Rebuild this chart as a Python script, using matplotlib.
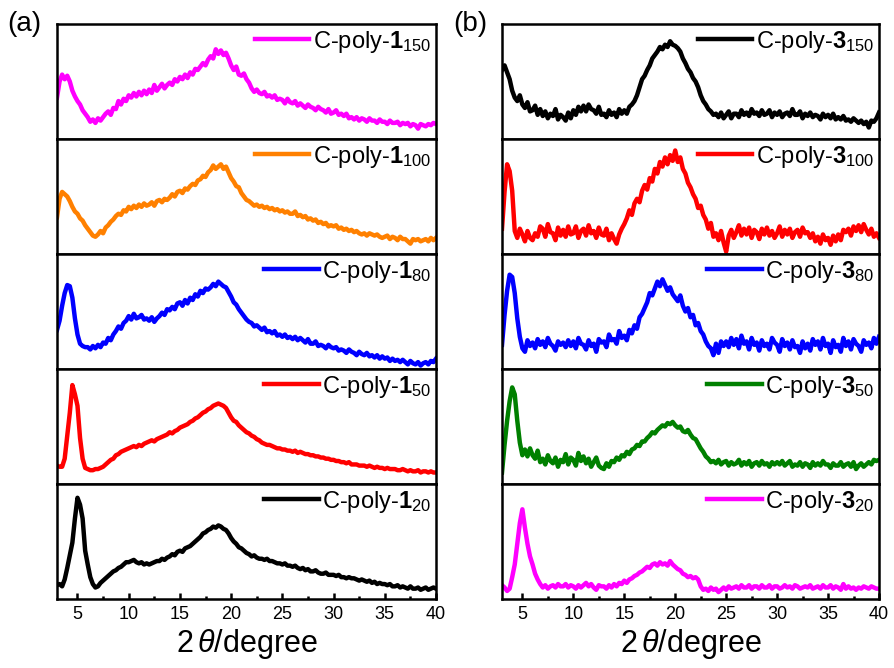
#!/usr/bin/env python3
"""XRD patterns of C-poly-1 and C-poly-3 series, stacked panels (a) and (b)."""
import numpy as np
import matplotlib
matplotlib.use("Agg")
import matplotlib.pyplot as plt
from matplotlib.ticker import MultipleLocator

plt.rcParams["font.family"] = ["Liberation Sans", "DejaVu Sans"]
plt.rcParams["mathtext.fontset"] = "custom"
plt.rcParams["mathtext.rm"] = "Liberation Sans"
plt.rcParams["mathtext.bf"] = "Liberation Sans:bold"
plt.rcParams["mathtext.it"] = "Liberation Sans:italic"

# 2-theta sampling (degrees), 0.25 deg step
two_theta = np.arange(3.0, 40.001, 0.25)

# intensities, % of the height of each stacked frame
a150 = [36, 50, 56, 52, 55, 50, 42, 37, 33, 30, 25, 22, 19, 15, 17, 14,
        18, 16, 19, 22, 24, 21, 27, 26, 33, 30, 35, 33, 38, 36, 40, 37,
        41, 38, 42, 39, 43, 40, 47, 42, 45, 48, 44, 47, 49, 47, 52, 50,
        54, 52, 56, 53, 58, 56, 61, 60, 63, 66, 64, 69, 72, 70, 78, 74,
        77, 73, 75, 70, 64, 60, 63, 56, 55, 57, 52, 49, 44, 41, 43, 40,
        39, 41, 37, 38, 36, 38, 34, 35, 34, 31, 35, 32, 31, 33, 29, 31,
        29, 27, 30, 28, 27, 25, 28, 26, 25, 23, 26, 22, 23, 25, 21, 22,
        20, 22, 18, 19, 17, 19, 16, 18, 17, 15, 18, 16, 16, 14, 17, 15,
        15, 13, 16, 14, 14, 15, 12, 14, 13, 14, 11, 13, 12, 9, 13, 12,
        11, 13, 12, 14, 13]
a100 = [32, 48, 54, 52, 50, 46, 41, 37, 35, 31, 29, 25, 22, 19, 16, 15,
        17, 20, 18, 23, 25, 28, 30, 33, 35, 34, 38, 37, 41, 39, 42, 40,
        43, 41, 44, 42, 43, 45, 42, 46, 47, 45, 48, 47, 49, 52, 50, 54,
        55, 53, 57, 56, 59, 61, 60, 64, 65, 68, 67, 71, 73, 77, 74, 76,
        78, 74, 76, 71, 66, 63, 59, 58, 53, 50, 47, 46, 44, 42, 43, 41,
        42, 40, 41, 39, 40, 38, 39, 37, 38, 36, 37, 35, 35, 37, 33, 34,
        32, 33, 30, 31, 29, 30, 27, 28, 26, 27, 24, 25, 24, 25, 22, 23,
        21, 22, 20, 21, 19, 20, 18, 17, 18, 16, 18, 17, 16, 17, 15, 14,
        15, 16, 13, 15, 14, 12, 15, 13, 13, 11, 9, 13, 12, 13, 11, 12,
        13, 11, 14, 12, 14]
a80 = [34, 42, 55, 66, 73, 72, 62, 44, 30, 22, 20, 19, 19, 17, 20, 18,
       21, 19, 23, 22, 27, 25, 30, 33, 37, 35, 40, 42, 46, 43, 48, 44,
       45, 47, 43, 44, 42, 45, 41, 44, 46, 49, 47, 52, 51, 54, 52, 57,
       58, 55, 60, 57, 62, 60, 65, 63, 68, 66, 70, 69, 71, 74, 72, 76,
       74, 72, 71, 67, 63, 58, 56, 52, 49, 46, 43, 41, 40, 37, 38, 36,
       34, 36, 32, 33, 31, 33, 29, 30, 28, 30, 27, 28, 26, 28, 25, 27,
       25, 23, 26, 22, 22, 24, 20, 21, 20, 18, 21, 19, 18, 19, 16, 17,
       16, 14, 17, 15, 14, 12, 15, 13, 12, 14, 11, 12, 10, 12, 9, 11,
       9, 10, 7, 9, 7, 8, 6, 8, 6, 4, 7, 5, 4, 6, 3, 5,
       6, 4, 7, 6, 9]
a50 = [16, 15, 15, 22, 42, 62, 86, 78, 68, 40, 22, 14, 13, 12, 12, 13,
       13, 14, 15, 17, 19, 21, 22, 25, 26, 28, 29, 30, 31, 32, 33, 32,
       34, 33, 35, 36, 37, 38, 37, 39, 40, 41, 42, 43, 45, 44, 46, 47,
       49, 50, 51, 52, 54, 55, 57, 58, 60, 62, 63, 65, 66, 68, 69, 70,
       69, 68, 66, 62, 58, 55, 54, 51, 49, 47, 45, 44, 42, 41, 39, 38,
       36, 35, 34, 34, 33, 32, 31, 31, 30, 30, 29, 29, 28, 29, 27, 28,
       27, 26, 26, 25, 25, 24, 24, 23, 23, 22, 22, 21, 21, 20, 20, 19,
       19, 18, 19, 17, 17, 17, 16, 16, 16, 15, 16, 15, 14, 15, 14, 14,
       13, 14, 13, 13, 13, 12, 12, 13, 12, 11, 12, 11, 11, 12, 10, 11,
       11, 10, 11, 10, 10]
a20 = [12, 13, 11, 17, 27, 38, 49, 70, 88, 82, 70, 42, 30, 19, 13, 10,
       11, 14, 16, 18, 20, 22, 24, 25, 27, 28, 30, 32, 32, 33, 34, 32,
       31, 32, 30, 31, 30, 31, 32, 33, 33, 35, 34, 36, 37, 39, 38, 41,
       42, 41, 44, 45, 46, 48, 50, 52, 54, 57, 58, 60, 61, 63, 62, 64,
       63, 61, 60, 57, 53, 50, 48, 45, 44, 42, 40, 39, 37, 38, 36, 35,
       35, 34, 35, 33, 33, 32, 31, 31, 30, 31, 29, 29, 28, 29, 27, 26,
       27, 25, 26, 24, 24, 25, 23, 22, 22, 23, 21, 21, 21, 20, 21, 19,
       19, 18, 19, 18, 18, 17, 16, 17, 16, 15, 16, 14, 15, 13, 14, 13,
       13, 12, 13, 11, 11, 12, 10, 11, 10, 9, 11, 9, 9, 10, 8, 9,
       10, 8, 9, 10, 9]

b150 = [60, 64, 58, 52, 42, 36, 33, 38, 30, 27, 32, 24, 25, 29, 21, 26,
        20, 24, 18, 22, 20, 26, 17, 21, 19, 16, 23, 18, 25, 21, 28, 24,
        29, 24, 30, 26, 25, 22, 28, 21, 22, 19, 25, 21, 23, 19, 26, 22,
        25, 22, 28, 30, 33, 38, 45, 52, 55, 60, 64, 70, 73, 76, 80, 78,
        82, 80, 85, 82, 81, 79, 76, 70, 66, 61, 58, 53, 50, 45, 38, 33,
        30, 26, 24, 21, 22, 19, 23, 18, 21, 24, 18, 22, 22, 19, 25, 21,
        23, 20, 26, 22, 23, 20, 25, 21, 22, 25, 19, 23, 21, 24, 19, 22,
        23, 20, 26, 21, 21, 24, 18, 22, 20, 23, 19, 21, 20, 17, 22, 19,
        21, 18, 22, 17, 19, 17, 20, 16, 17, 15, 18, 16, 14, 16, 13, 15,
        10, 16, 15, 18, 23]
b100 = [22, 54, 78, 72, 55, 20, 14, 22, 17, 11, 20, 14, 12, 18, 15, 24,
        22, 15, 26, 19, 18, 12, 23, 16, 21, 15, 24, 17, 18, 24, 14, 20,
        22, 16, 25, 18, 20, 14, 23, 17, 16, 22, 12, 18, 13, 9, 17, 22,
        26, 31, 38, 34, 44, 48, 45, 55, 60, 56, 66, 63, 74, 70, 80, 76,
        84, 78, 86, 81, 90, 80, 84, 74, 70, 62, 58, 52, 48, 40, 42, 34,
        30, 22, 27, 15, 18, 12, 20, 10, 2, 16, 21, 14, 19, 25, 16, 22,
        17, 23, 14, 21, 19, 13, 22, 17, 23, 16, 20, 14, 18, 24, 15, 21,
        17, 22, 14, 19, 21, 15, 23, 18, 19, 14, 18, 11, 15, 9, 17, 12,
        14, 8, 16, 11, 17, 12, 21, 19, 22, 16, 24, 20, 25, 19, 26, 21,
        17, 22, 15, 18, 14]
b80 = [21, 47, 68, 82, 80, 66, 44, 28, 18, 15, 25, 20, 23, 18, 26, 21,
       24, 19, 27, 22, 20, 16, 24, 21, 23, 19, 25, 20, 24, 18, 27, 22,
       21, 17, 25, 20, 22, 15, 26, 23, 24, 19, 30, 25, 26, 22, 33, 27,
       29, 25, 34, 31, 38, 35, 45, 48, 53, 58, 66, 64, 70, 76, 72, 78,
       73, 68, 71, 65, 62, 59, 64, 55, 50, 53, 45, 47, 38, 40, 33, 30,
       24, 20, 18, 12, 22, 14, 24, 20, 24, 19, 27, 21, 26, 18, 29, 22,
       24, 17, 27, 21, 23, 16, 25, 20, 22, 17, 27, 23, 21, 15, 26, 20,
       23, 17, 25, 19, 20, 14, 24, 18, 22, 16, 26, 21, 24, 17, 27, 20,
       22, 14, 25, 19, 21, 15, 27, 20, 24, 17, 26, 22, 20, 15, 25, 21,
       23, 18, 27, 22, 28]
b50 = [10, 34, 55, 72, 84, 78, 55, 36, 25, 30, 24, 31, 25, 22, 29, 19,
       22, 17, 25, 20, 18, 23, 15, 21, 19, 26, 17, 23, 21, 16, 27, 20,
       24, 18, 22, 15, 19, 23, 16, 14, 13, 18, 15, 20, 19, 23, 21, 25,
       24, 28, 26, 30, 31, 34, 33, 37, 37, 40, 42, 45, 44, 47, 49, 51,
       50, 53, 52, 54, 51, 49, 50, 46, 45, 47, 43, 40, 39, 35, 31, 28,
       24, 22, 19, 20, 18, 21, 17, 19, 20, 16, 19, 17, 18, 21, 16, 19,
       17, 20, 15, 18, 19, 16, 20, 17, 18, 15, 19, 17, 19, 17, 20, 16,
       18, 20, 15, 17, 16, 19, 15, 18, 17, 14, 19, 16, 18, 16, 20, 17,
       17, 14, 18, 16, 16, 19, 15, 17, 18, 15, 19, 13, 16, 18, 15, 17,
       19, 17, 21, 20, 21]
b20 = [12, 10, 7, 9, 19, 30, 48, 66, 78, 62, 48, 37, 30, 22, 17, 13,
       10, 12, 9, 11, 12, 10, 13, 11, 11, 13, 10, 12, 11, 9, 12, 10,
       12, 14, 11, 13, 10, 8, 12, 11, 11, 9, 12, 10, 13, 11, 14, 13,
       16, 14, 17, 18, 20, 21, 23, 24, 26, 28, 27, 30, 31, 29, 32, 30,
       31, 29, 33, 30, 28, 26, 25, 22, 21, 19, 20, 18, 19, 17, 11, 8,
       9, 7, 10, 8, 9, 6, 8, 10, 8, 11, 9, 10, 11, 9, 12, 10,
       10, 12, 9, 11, 11, 9, 12, 10, 10, 12, 9, 11, 11, 9, 10, 12,
       10, 11, 9, 12, 11, 9, 10, 11, 10, 12, 9, 10, 11, 9, 12, 10,
       10, 12, 9, 11, 10, 8, 13, 9, 11, 9, 10, 8, 10, 9, 11, 10,
       9, 11, 10, 9, 9]

panel_a = [
    (a150, "#FF00FF", r"C-poly-$\mathbf{1}_{150}$"),
    (a100, "#FF8000", r"C-poly-$\mathbf{1}_{100}$"),
    (a80, "#0000FF", r"C-poly-$\mathbf{1}_{80}$"),
    (a50, "#FF0000", r"C-poly-$\mathbf{1}_{50}$"),
    (a20, "#000000", r"C-poly-$\mathbf{1}_{20}$"),
]
panel_b = [
    (b150, "#000000", r"C-poly-$\mathbf{3}_{150}$"),
    (b100, "#FF0000", r"C-poly-$\mathbf{3}_{100}$"),
    (b80, "#0000FF", r"C-poly-$\mathbf{3}_{80}$"),
    (b50, "#008000", r"C-poly-$\mathbf{3}_{50}$"),
    (b20, "#FF00FF", r"C-poly-$\mathbf{3}_{20}$"),
]

W, H = 895, 668
BOTTOM = 1 - 599 / H
TOP = 1 - 24 / H
ROW_H = (TOP - BOTTOM) / 5


def draw_panel(fig, left_px, right_px, series, tag, tag_x_px):
    left = left_px / W
    width = (right_px - left_px) / W
    n = len(series)
    for i, (vals, color, label) in enumerate(series):
        ax = fig.add_axes([left, TOP - (i + 1) * ROW_H, width, ROW_H])
        assert len(vals) == len(two_theta), (label, len(vals))
        ax.plot(two_theta, vals, color=color, lw=3.2, label=label)
        ax.set_xlim(3, 40)
        ax.set_ylim(0, 100)
        for sp in ax.spines.values():
            sp.set_linewidth(1.8)
        ax.tick_params(left=False, labelleft=False, right=False, top=False)
        if i < n - 1:
            ax.tick_params(which="both", bottom=False, labelbottom=False)
        else:
            ax.set_xticks(range(5, 41, 5))
            ax.xaxis.set_minor_locator(MultipleLocator(2.5))
            ax.tick_params(which="major", direction="in", length=4, width=1.8,
                           labelsize=13, pad=5)
            ax.tick_params(which="minor", direction="in", length=2.5, width=1.8)
            ax.set_xlabel(r"2$\,\mathit{\theta}$/degree", fontsize=22, labelpad=3)
        ax.legend(loc="upper right", frameon=False, fontsize=17,
                  handlelength=2.3, handletextpad=0.15,
                  borderaxespad=0.05, borderpad=0.15)
    fig.text(tag_x_px / W, 1 - 24 / H, tag, fontsize=20, ha="left", va="center")


fig = plt.figure(figsize=(W / 100, H / 100), dpi=100)
draw_panel(fig, 57, 436, panel_a, "(a)", 7)
draw_panel(fig, 502, 879, panel_b, "(b)", 453)
fig.savefig("out.png", dpi=100)
